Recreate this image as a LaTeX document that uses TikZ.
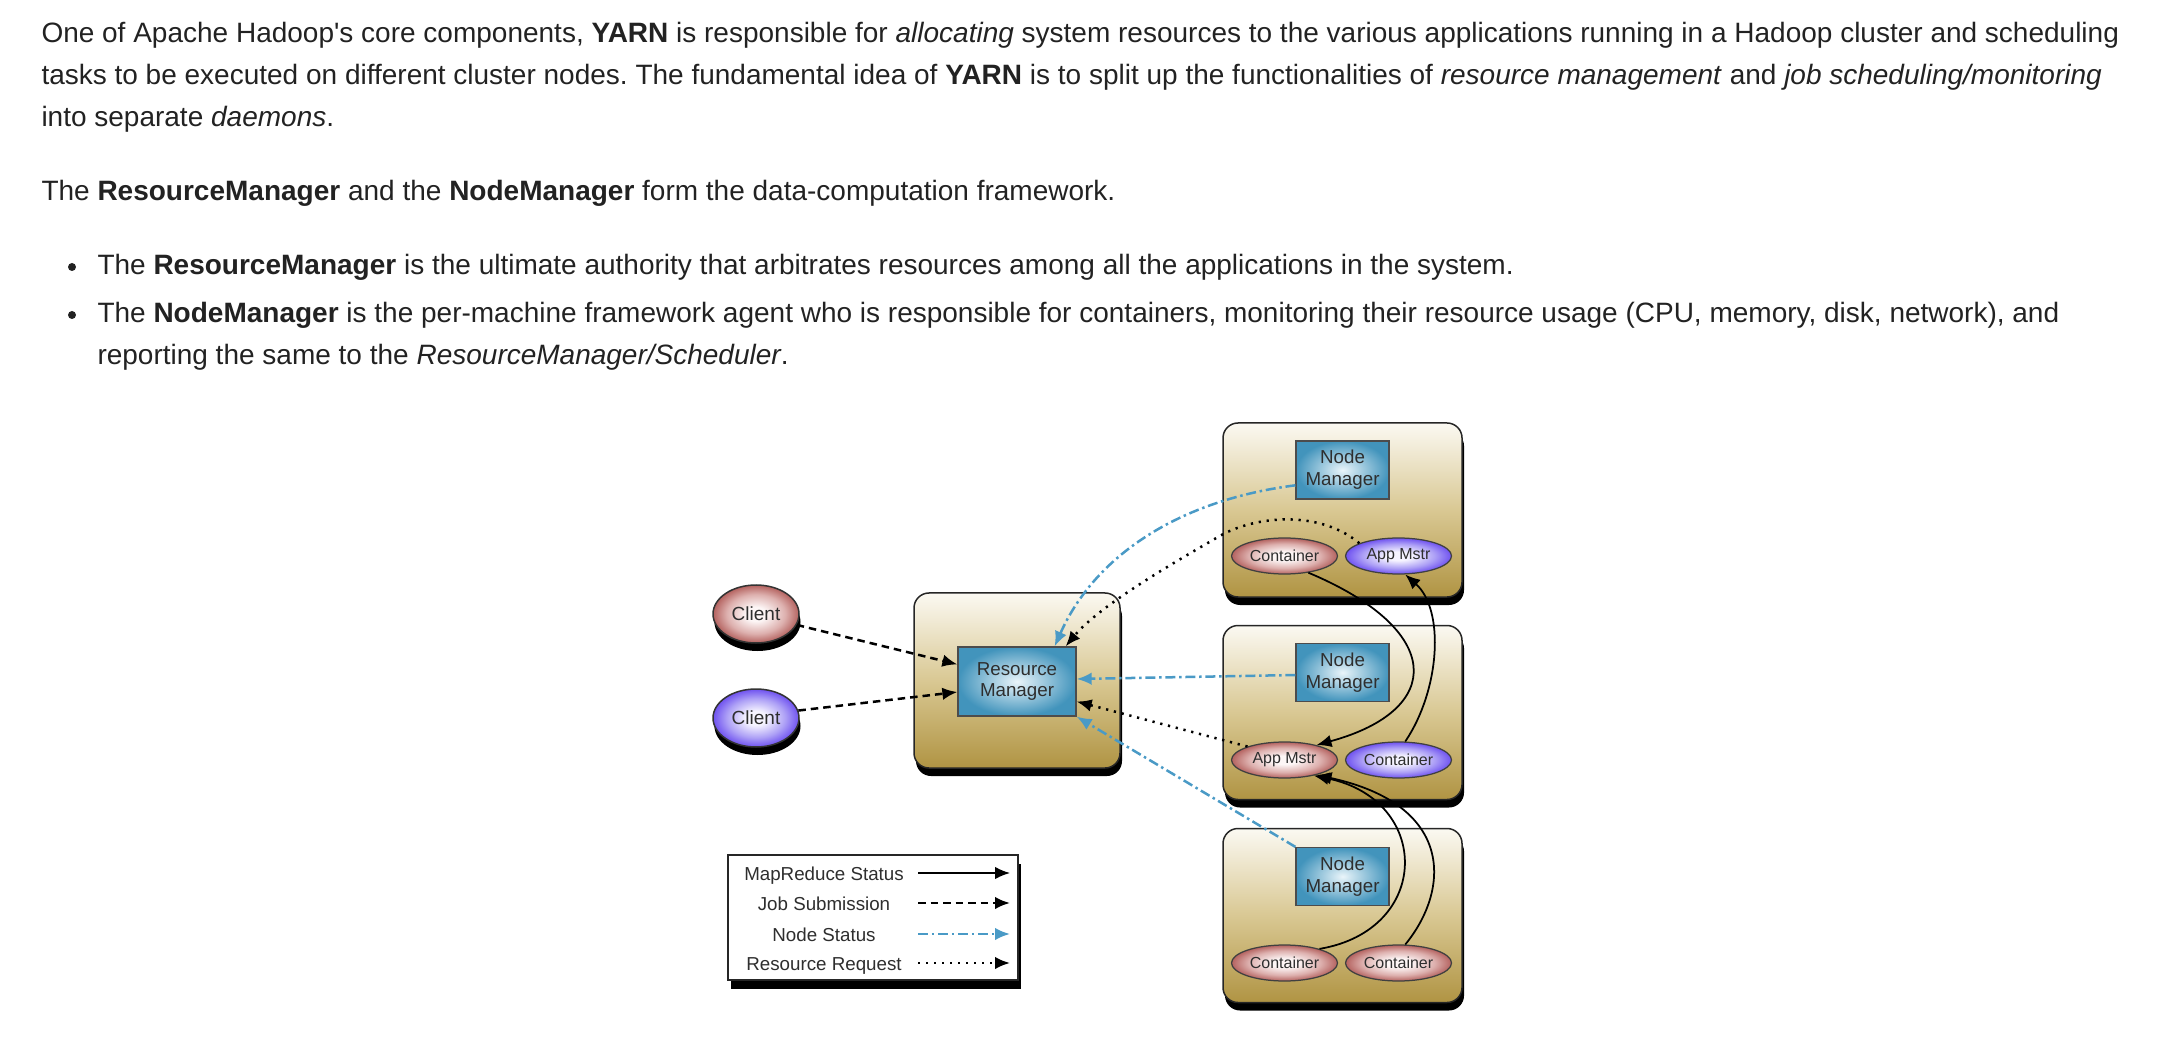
\documentclass[tikz,border=0pt]{standalone}
\usepackage{fontspec}
\setmainfont{Liberation Sans}
\usetikzlibrary{arrows.meta,shadows,calc,shapes.geometric}
\definecolor{txt}{HTML}{222222}
\definecolor{dtxt}{HTML}{2E2E2E}
\definecolor{nsblue}{HTML}{4A9AC6}
\definecolor{boxtop}{HTML}{FBF9F2}
\definecolor{boxmid}{HTML}{D9C893}
\definecolor{boxbot}{HTML}{B09443}
\definecolor{nmin}{HTML}{EAF5FA}
\definecolor{nmout}{HTML}{4294BC}
\definecolor{redin}{HTML}{FDF6F6}
\definecolor{redmid}{HTML}{DDB0AE}
\definecolor{redout}{HTML}{B4625F}
\definecolor{purin}{HTML}{F6F4FF}
\definecolor{purmid}{HTML}{ADA0F6}
\definecolor{purout}{HTML}{6F52F0}
\pgfdeclareradialshading{redball}{\pgfpoint{0bp}{0bp}}{color(0bp)=(redin); color(6bp)=(redin); color(17bp)=(redmid); color(25bp)=(redout); color(50bp)=(redout)}
\pgfdeclareradialshading{purball}{\pgfpoint{0bp}{0bp}}{color(0bp)=(purin); color(6bp)=(purin); color(17bp)=(purmid); color(25bp)=(purout); color(50bp)=(purout)}
\begin{document}
\frenchspacing
\begin{tikzpicture}[x=0.4pt,y=-0.4pt,
  body/.style={anchor=base west,inner sep=0pt,text=txt,font=\fontsize{11.2}{13.4}\selectfont},
  bulletdot/.style={circle,fill=txt,inner sep=0pt,minimum size=3.2pt},
  cluster/.style={draw=black!85,line width=0.6pt,rounded corners=6pt,minimum width=95.6pt,minimum height=69.6pt,
    top color=boxtop,bottom color=boxbot,middle color=boxmid,
    general shadow={fill=black,shadow xshift=0.8pt,shadow yshift=-3.2pt}},
  mgr/.style={draw=black!70,line width=0.5pt,inner color=nmin,outer color=nmout,minimum width=37.2pt,minimum height=23.2pt,
    align=center,font=\fontsize{7.5}{8.8}\selectfont,text=dtxt,inner sep=0pt},
  ell/.style={ellipse,draw=black!75,line width=0.5pt,minimum width=42.4pt,minimum height=14.4pt,inner sep=0pt,
    font=\fontsize{6.4}{7.5}\selectfont,text=dtxt},
  redell/.style={ell,shading=redball},
  purell/.style={ell,shading=purball},
  client/.style={ellipse,draw=black!80,line width=0.6pt,minimum width=34.4pt,minimum height=23.2pt,inner sep=0pt,
    font=\fontsize{7.6}{9}\selectfont,text=dtxt,general shadow={fill=black,shadow xshift=0.6pt,shadow yshift=-3.2pt}},
  legendbox/.style={draw=black!85,line width=0.6pt,fill=white,minimum width=116pt,minimum height=50pt,
    general shadow={fill=black,shadow xshift=1pt,shadow yshift=-3.6pt}},
  legtxt/.style={anchor=base,inner sep=0pt,font=\fontsize{7.5}{9}\selectfont,text=dtxt},
  tip/.style={-{Latex[length=6pt,width=5pt]}},
  mrs/.style={tip,draw=black,line width=0.7pt},
  jobsub/.style={tip,draw=black,line width=1pt,dash pattern=on 3pt off 2pt},
  nodestat/.style={tip,draw=nsblue,line width=1pt,dash pattern=on 4pt off 1.5pt on 1pt off 1.5pt},
  resreq/.style={tip,draw=black,line width=1pt,dash pattern=on 0.9pt off 2.3pt}
]
\useasboundingbox (0,0) rectangle (2176,1044);

% ---------- body text ----------
\node[body] (t1) at (41,43) {One of Apache Hadoop\textquotesingle s core components, \textbf{YARN} is responsible for \textit{allocating} system resources to the various applications running in a Hadoop cluster and scheduling};
\node[body] (t2) at (41,85) {tasks to be executed on different cluster nodes. The fundamental idea of \textbf{YARN} is to split up the functionalities of \textit{resource management} and \textit{job scheduling/monitoring}};
\node[body] (t3) at (41,127) {into separate \textit{daemons}.};
\node[body] (t4) at (41,201) {The \textbf{ResourceManager} and the \textbf{NodeManager} form the data-computation framework.};
\node[bulletdot] (bd1) at (72,267) {};
\node[body] (t5) at (97,275) {The \textbf{ResourceManager} is the ultimate authority that arbitrates resources among all the applications in the system.};
\node[bulletdot] (bd2) at (72,315) {};
\node[body] (t6) at (97,323) {The \textbf{NodeManager} is the per-machine framework agent who is responsible for containers, monitoring their resource usage (CPU, memory, disk, network), and};
\node[body] (t7) at (97,365) {reporting the same to the \textit{ResourceManager/Scheduler}.};

% ---------- boxes ----------
\node[cluster] (box1) at (1342.5,510) {};
\node[cluster] (box2) at (1342.5,712.5) {};
\node[cluster] (box3) at (1342.5,915.5) {};
\node[cluster,minimum width=82.4pt,minimum height=70pt] (rmbox) at (1017,680.5) {};

\node[mgr] (nm1) at (1342.5,470) {Node\\Manager};
\node[mgr] (nm2) at (1342.5,672.5) {Node\\Manager};
\node[mgr] (nm3) at (1342.5,876.5) {Node\\Manager};
\node[mgr,minimum width=47.2pt,minimum height=27.6pt,font=\fontsize{7.5}{8.4}\selectfont] (rm) at (1017,681.5) {Resource\\Manager};

\node[redell] (ct1) at (1284.5,556) {Container};
\node[purell] (am1) at (1398.5,556) {App Mstr};
\node[redell] (am2) at (1284.5,760) {App Mstr};
\node[purell] (cn2) at (1398.5,760) {Container};
\node[redell] (ct3a) at (1284.5,963) {Container};
\node[redell] (ct3b) at (1398.5,963) {Container};

\node[client,shading=redball] (cl1) at (756,614) {Client};
\node[client,shading=purball] (cl2) at (756,718) {Client};

% ---------- legend ----------
\node[legendbox] (leg) at (873,917.5) {};
\node[legtxt] (l1) at (824,880) {MapReduce Status};
\node[legtxt] (l2) at (824,910) {Job Submission};
\node[legtxt] (l3) at (824,941) {Node Status};
\node[legtxt] (l4) at (824,970) {Resource Request};
\coordinate (ls1) at (918,873); \coordinate (le1) at (1010,873);
\coordinate (ls2) at (918,903); \coordinate (le2) at (1010,903);
\coordinate (ls3) at (918,934); \coordinate (le3) at (1010,934);
\coordinate (ls4) at (918,963); \coordinate (le4) at (1010,963);
\draw[mrs] (ls1) -- (le1);
\draw[jobsub] (ls2) -- (le2);
\draw[nodestat] (ls3) -- (le3);
\draw[resreq] (ls4) -- (le4);

% ---------- connectors ----------
\draw[jobsub] (cl1.-15) -- (rm.164);
\draw[jobsub] (cl2.10) -- (rm.190);
\draw[nodestat] (nm1.198) .. controls (1180,500) and (1095,555) .. ($(rm.north east)+(-22,0)$);
\draw[resreq] (am1.162) .. controls (1320,510) and (1255,515) .. (1218,537) .. controls (1175,562) and (1100,605) .. ($(rm.north east)+(-11,0)$);
\draw[nodestat] ($(nm2.west)+(0,2.5)$) -- ($(rm.east)+(0,-2.5)$);
\draw[resreq] (am2.160) -- ($(rm.east)+(0,20)$);
\draw[nodestat] (nm3.north west) -- (rm.south east);
\draw[mrs] (ct1.-35) .. controls (1445,630) and (1445,710) .. (am2.25);
\draw[mrs] (cn2.70) .. controls (1440,690) and (1445,610) .. (am1.-70);
\draw[mrs] (ct3a.22) .. controls (1432,930) and (1432,800) .. (am2.-28);
\draw[mrs] (ct3b.70) .. controls (1450,890) and (1455,805) .. (am2.-25);
\end{tikzpicture}
\end{document}
